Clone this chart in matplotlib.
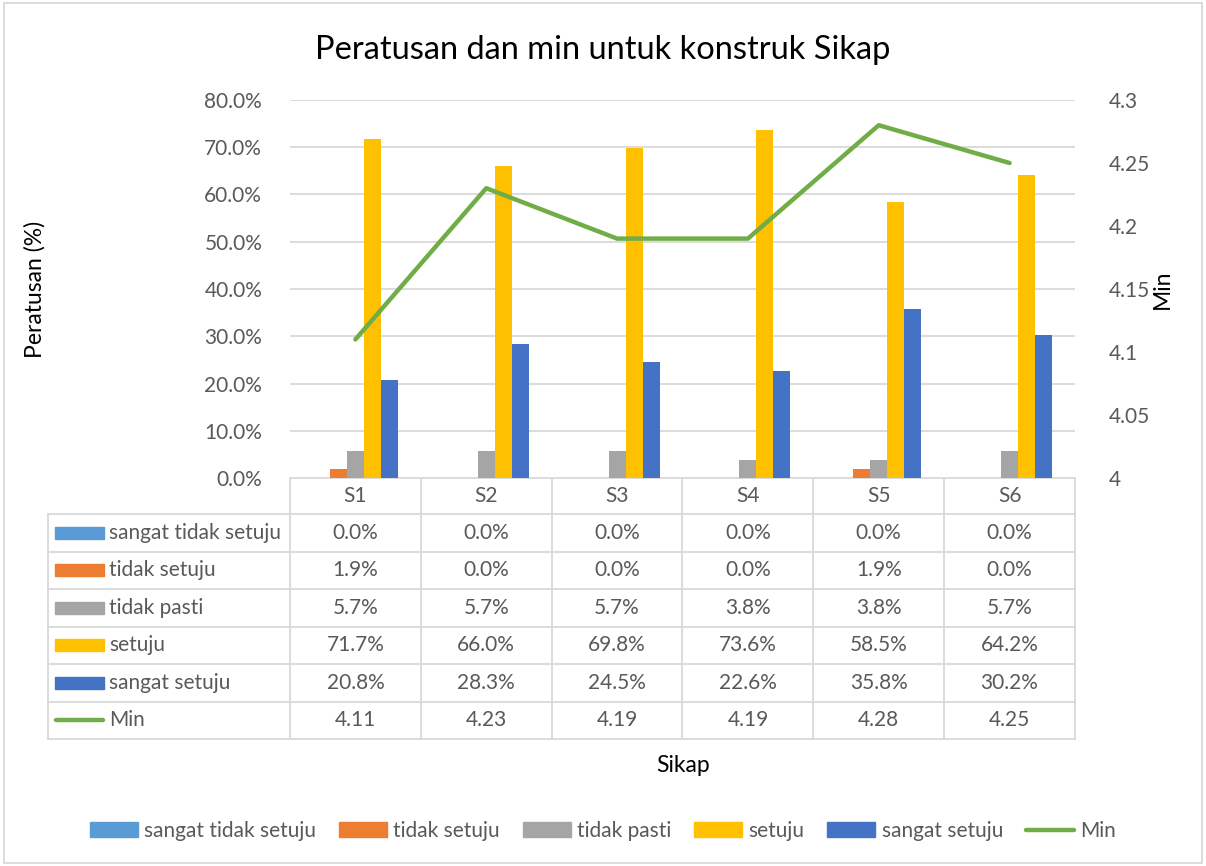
import numpy as np
import matplotlib
matplotlib.use("Agg")
import matplotlib.pyplot as plt
from matplotlib.lines import Line2D
from matplotlib.patches import Rectangle, Patch
import matplotlib.transforms as mtransforms
from matplotlib.ticker import FuncFormatter

plt.rcParams['font.family'] = ['Lato', 'DejaVu Sans']

categories = ["S1", "S2", "S3", "S4", "S5", "S6"]
series_names = ["sangat tidak setuju", "tidak setuju", "tidak pasti", "setuju", "sangat setuju"]
sangat_tidak_setuju = [0.0, 0.0, 0.0, 0.0, 0.0, 0.0]
tidak_setuju = [1.9, 0.0, 0.0, 0.0, 1.9, 0.0]
tidak_pasti = [5.7, 5.7, 5.7, 3.8, 3.8, 5.7]
setuju = [71.7, 66.0, 69.8, 73.6, 58.5, 64.2]
sangat_setuju = [20.8, 28.3, 24.5, 22.6, 35.8, 30.2]
min_values = [4.11, 4.23, 4.19, 4.19, 4.28, 4.25]

series_values = [sangat_tidak_setuju, tidak_setuju, tidak_pasti, setuju, sangat_setuju]
colors = ["#5B9BD5", "#ED7D31", "#A5A5A5", "#FFC000", "#4472C4"]
green = "#70AD47"
grid_c = "#D9D9D9"
tick_c = "#595959"
fs = 15
W, H = 1206, 866

fig = plt.figure(figsize=(W / 100, H / 100), dpi=100)

# main axes (pixel box 290..1075 x 100..478)
ax = fig.add_axes([290 / W, 1 - 478 / H, 785 / W, 378 / H])
x = np.arange(len(categories))
bw = 0.13
for i, (name, vals) in enumerate(zip(series_names, series_values)):
    ax.bar(x + (i - 2) * bw, vals, width=bw, color=colors[i], zorder=3)

ax.set_xlim(-0.5, len(categories) - 0.5)
ax.set_ylim(0, 80)
ax.set_yticks(np.arange(0, 81, 10))
ax.yaxis.set_major_formatter(FuncFormatter(lambda v, p: f"{v:.1f}%"))
ax.set_xticks([])
ax.grid(axis='y', color=grid_c, linewidth=1.3, zorder=0)
for s in ax.spines.values():
    s.set_visible(False)
ax.tick_params(axis='y', length=0, pad=20, labelsize=fs, labelcolor=tick_c)
ax.set_ylabel("Peratusan (%)", fontsize=16.5)
ax.yaxis.set_label_coords(-244 / 785, 0.5)

ax2 = ax.twinx()
ax2.plot(x, min_values, color=green, linewidth=3.2, solid_capstyle='round', zorder=4)
ax2.set_ylim(4.0, 4.3)
ax2.set_yticks(np.arange(4.0, 4.31, 0.05))
ax2.yaxis.set_major_formatter(FuncFormatter(lambda v, p: f"{round(v, 2):g}"))
for s in ax2.spines.values():
    s.set_visible(False)
ax2.tick_params(axis='y', length=0, pad=24, labelsize=fs, labelcolor=tick_c)
ax2.set_ylabel("Min", fontsize=16.5)
ax2.yaxis.set_label_coords(1 + 77 / 785, 0.5)

fig.text(0.5, 1 - 50 / H, "Peratusan dan min untuk konstruk Sikap", ha='center', va='center',
         fontsize=23.5, color="#000000")

# data table
ov = fig.add_axes([0, 0, 1, 1], zorder=-1)
ov.set_xlim(0, W)
ov.set_ylim(H, 0)
ov.axis('off')
bt = mtransforms.blended_transform_factory(ax.transData, ov.transData)

top = 478
hdr_bot = 514
row_h = 37.5
n_rows = len(series_names) + 1
bottom = hdr_bot + n_rows * row_h
left_edge = 48
lw = 1.3

# header row
ov.add_line(Line2D([-0.5, len(categories) - 0.5], [top, top], transform=bt, color=grid_c, lw=lw))
for j in range(len(categories) + 1):
    ov.add_line(Line2D([j - 0.5, j - 0.5], [top, bottom], transform=bt, color=grid_c, lw=lw))
for j, c in enumerate(categories):
    ov.text(j, (top + hdr_bot) / 2, c, transform=bt, ha='center', va='center',
            fontsize=fs, color=tick_c)
# horizontal lines
for r in range(n_rows + 1):
    yy = hdr_bot + r * row_h
    ov.plot([left_edge, 290], [yy, yy], color=grid_c, lw=lw)
    ov.add_line(Line2D([-0.5, len(categories) - 0.5], [yy, yy], transform=bt, color=grid_c, lw=lw))
ov.plot([left_edge, left_edge], [hdr_bot, bottom], color=grid_c, lw=lw)

row_labels = series_names + ["Min"]
for r, name in enumerate(row_labels):
    yc = hdr_bot + (r + 0.5) * row_h
    if r < len(series_names):
        ov.add_patch(Rectangle((55, yc - 6), 49, 12, color=colors[r]))
        vals = [f"{v:.1f}%" for v in series_values[r]]
    else:
        ov.plot([56, 103], [yc, yc], color=green, lw=3.2, solid_capstyle='round')
        vals = [f"{v:.2f}" for v in min_values]
    ov.text(109, yc, name, ha='left', va='center', fontsize=fs, color=tick_c)
    for j, v in enumerate(vals):
        ov.text(j, yc, v, transform=bt, ha='center', va='center', fontsize=fs, color=tick_c)

fig.text(683 / W, 1 - 766 / H, "Sikap", ha='center', va='center', fontsize=16.5)

# legend
handles = [Patch(color=c) for c in colors] + [Line2D([0], [0], color=green, lw=3.2, solid_capstyle='round')]
fig.legend(handles, series_names + ["Min"], loc='center', bbox_to_anchor=(0.5, 1 - 831 / H),
           ncol=6, frameon=False, fontsize=fs, labelcolor=tick_c, handlelength=2.3,
           handleheight=0.7, handletextpad=0.3, columnspacing=1.1)

# chart border
fig.add_artist(Rectangle((4 / W, 3 / H), 1 - 8 / W, 1 - 6 / H, transform=fig.transFigure,
                         fill=False, edgecolor=grid_c, lw=1.3))

fig.savefig("out.png", dpi=100, facecolor='white')
